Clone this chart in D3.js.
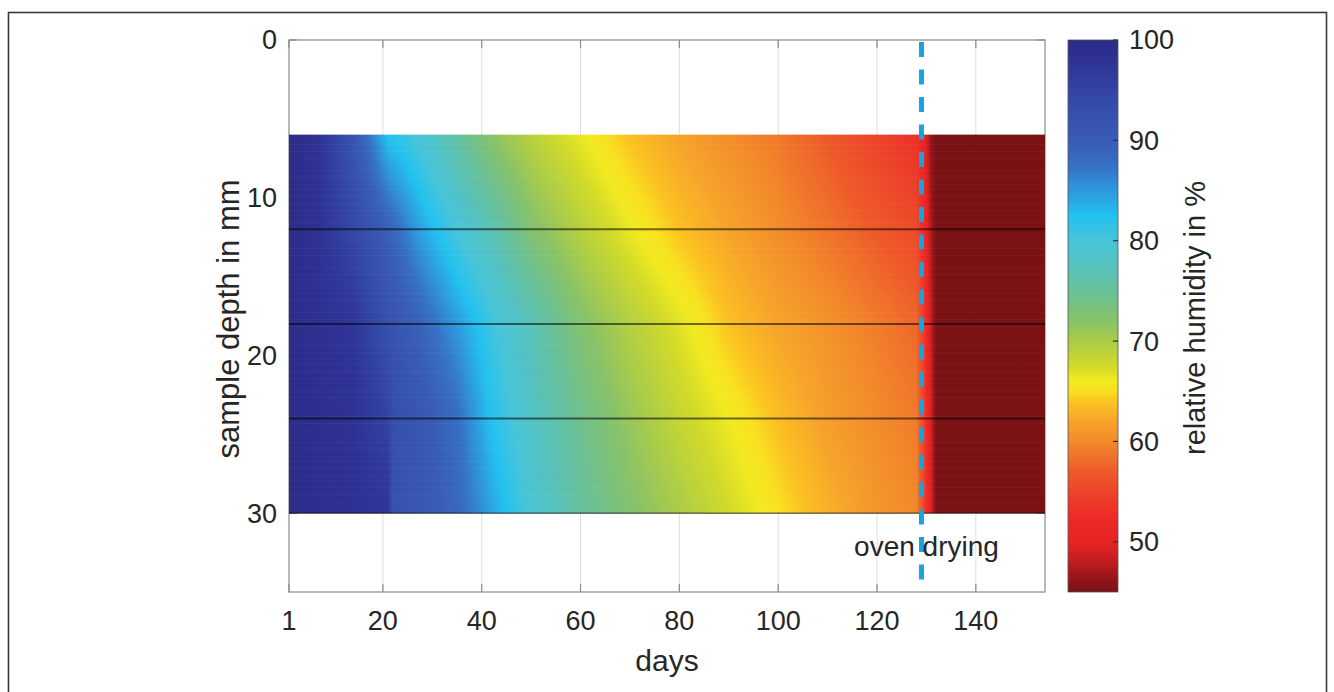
<!DOCTYPE html>
<html><head><meta charset="utf-8">
<script src="https://cdn.jsdelivr.net/npm/d3@7"></script>
<style>
body{margin:0;background:#fff;}
svg text{font-family:"Liberation Sans", Arial, sans-serif; fill:#262626;}
</style></head><body>
<svg id="chart" width="1334" height="692"></svg>
<script>
// ---- data ----
const days   = [1, 7, 14, 21, 22, 28, 35, 42, 50, 60, 70, 80, 90, 100, 110, 120, 128, 129.5, 131, 132, 154];
const depths = [6, 12, 18, 24, 30];
const rh6  = [99.5, 98.0, 91.5, 82.3, 81.9, 79.3, 75.5, 71.8, 69.0, 66.3, 63.7, 61.8, 60.3, 58.9, 56.8, 54.8, 53.0, 50.5, 46.0, 45, 45];
const rh12 = [99.5, 98.2, 94.3, 89.5, 88.6, 84.0, 80.0, 76.8, 72.5, 69.2, 66.3, 63.8, 61.9, 60.2, 58.6, 56.8, 55.5, 52.0, 47.0, 45, 45];
const rh18 = [99.5, 98.5, 97.5, 92.5, 92.0, 88.9, 84.9, 80.8, 77.0, 72.5, 69.4, 66.8, 63.8, 61.9, 60.6, 59.1, 57.8, 54.0, 48.0, 45, 45];
const rh24 = [99.5, 99.0, 98.2, 95.2, 93.0, 91.1, 88.0, 82.3, 78.2, 74.3, 71.1, 68.3, 66.1, 63.6, 61.5, 60.1, 59.0, 54.5, 48.5, 45, 45];
const rh30 = [99.5, 99.0, 98.3, 97.5, 92.0, 90.9, 88.7, 84.3, 79.5, 75.4, 72.5, 70.0, 67.6, 65.2, 62.8, 60.9, 60.0, 55.0, 49.0, 45, 45];
const xTicks = [1, 20, 40, 60, 80, 100, 120, 140];
const yTicks = [0, 10, 20, 30];
const cTicks = [50, 60, 70, 80, 90, 100];
const ovenDay = 129;
const ovenLabel = "oven drying";
const cmapValues = [45, 46, 48, 50, 52, 54, 57, 60, 62, 64, 65, 66, 67.5, 70, 72, 75, 78, 80, 82.5, 84, 85.5, 87.5, 90, 94, 98, 100];
const cmapColors = ["#7a1114","#8c1418","#c01e20","#e62424","#ec2828","#ec3a2a","#ee5a2a","#f28a2a","#f7a42a","#fbc420","#f8e020","#f2ea20","#d2da28","#aacc48","#88c268","#68c098","#52c2c4","#48c4d8","#22c2f0","#2aa8e4","#3090d8","#3670c4","#385cb6","#3449a8","#2e3294","#2b2b88"];

// ---- layout ----
const svg = d3.select('#chart');
const P = {left: 289, top: 40, right: 1045, bottom: 592};
const x = d3.scaleLinear().domain([1, 154]).range([P.left, P.right]);
const y = d3.scaleLinear().domain([0, 35]).range([P.top, P.bottom]);
const color = d3.scaleLinear().domain(cmapValues).range(cmapColors).interpolate(d3.interpolateRgb).clamp(true);
const CB = {left: 1068, right: 1118};
const cy = d3.scaleLinear().domain([45, 100]).range([P.bottom, P.top]);
const defs = svg.append('defs');

// outer frame
svg.append('rect').attr('x', 8.5).attr('y', 12.5).attr('width', 1318).attr('height', 720)
  .attr('fill', 'none').attr('stroke', '#3a3a3a').attr('stroke-width', 1.6);

// grid (x only)
svg.append('g').selectAll('line').data(xTicks.slice(1)).join('line')
  .attr('x1', d => x(d)).attr('x2', d => x(d)).attr('y1', P.top).attr('y2', P.bottom)
  .attr('stroke', '#dedede').attr('stroke-width', 1);

// axes box + ticks (drawn below data)
const ax = svg.append('g');
ax.append('rect').attr('x', P.left).attr('y', P.top).attr('width', P.right - P.left).attr('height', P.bottom - P.top)
  .attr('fill', 'none').attr('stroke', '#8a8a8a').attr('stroke-width', 1.2);
xTicks.forEach(t => {
  ax.append('line').attr('x1', x(t)).attr('x2', x(t)).attr('y1', P.bottom).attr('y2', P.bottom - 8).attr('stroke', '#8a8a8a').attr('stroke-width', 1.2);
  ax.append('line').attr('x1', x(t)).attr('x2', x(t)).attr('y1', P.top).attr('y2', P.top + 8).attr('stroke', '#8a8a8a').attr('stroke-width', 1.2);
});
yTicks.forEach(t => {
  ax.append('line').attr('x1', P.left).attr('x2', P.left + 8).attr('y1', y(t)).attr('y2', y(t)).attr('stroke', '#8a8a8a').attr('stroke-width', 1.2);
  ax.append('line').attr('x1', P.right).attr('x2', P.right - 8).attr('y1', y(t)).attr('y2', y(t)).attr('stroke', '#8a8a8a').attr('stroke-width', 1.2);
});

// ---- data field (shading interp) ----
const rows = [rh6, rh12, rh18, rh24, rh30];
function valueAt(day, depth) {
  let j = d3.bisectRight(depths, depth) - 1; j = Math.max(0, Math.min(depths.length - 2, j));
  const ty = (depth - depths[j]) / (depths[j + 1] - depths[j]);
  let i = d3.bisectRight(days, day) - 1; i = Math.max(0, Math.min(days.length - 2, i));
  const tx = (day - days[i]) / (days[i + 1] - days[i]);
  const v = r => r[i] + (r[i + 1] - r[i]) * tx;
  return v(rows[j]) * (1 - ty) + v(rows[j + 1]) * ty;
}
const d0 = days[0], d1 = days[days.length - 1];
const sampleDays = [];
for (let d = d0; d < 126; d += 1) sampleDays.push(d);
for (let d = 126; d < 134; d += 0.25) sampleDays.push(d);
for (let d = 134; d <= d1; d += 1) sampleDays.push(d);
const stripStep = 0.15;
const strips = d3.range(depths[0], depths[depths.length - 1] - 1e-9, stripStep);
const field = svg.append('g');
strips.forEach((dep, k) => {
  const mid = Math.min(dep + stripStep / 2, depths[depths.length - 1]);
  const g = defs.append('linearGradient').attr('id', 'strip' + k)
    .attr('gradientUnits', 'userSpaceOnUse')
    .attr('x1', x(d0)).attr('x2', x(d1)).attr('y1', 0).attr('y2', 0);
  sampleDays.forEach(d => {
    g.append('stop').attr('offset', (x(d) - x(d0)) / (x(d1) - x(d0)))
      .attr('stop-color', color(valueAt(d, mid)));
  });
  const y0 = y(dep), y1 = Math.min(y(dep + stripStep) + 0.6, y(depths[depths.length - 1]));
  field.append('rect').attr('x', x(d0)).attr('y', y0).attr('width', x(d1) - x(d0)).attr('height', y1 - y0)
    .attr('fill', 'url(#strip' + k + ')');
});
// sensor layer boundaries
field.selectAll('line.layer').data(depths.slice(1)).join('line').attr('class', 'layer')
  .attr('x1', x(d0)).attr('x2', x(d1)).attr('y1', d => y(d)).attr('y2', d => y(d))
  .attr('stroke', 'rgba(0,0,0,0.55)').attr('stroke-width', d => d === depths[depths.length - 1] ? 1.5 : 2);

// tick labels
const tl = svg.append('g').attr('font-size', 27);
tl.selectAll('text.xt').data(xTicks).join('text').attr('class', 'xt')
  .attr('x', d => x(d)).attr('y', 630).attr('text-anchor', 'middle').text(d => d);
tl.selectAll('text.yt').data(yTicks).join('text').attr('class', 'yt')
  .attr('x', 277).attr('y', d => y(d)).attr('dy', '0.35em').attr('text-anchor', 'end').text(d => d);

// axis titles
svg.append('text').attr('x', 667).attr('y', 671).attr('text-anchor', 'middle')
  .attr('font-size', 30).text('days');
svg.append('text').attr('transform', `translate(239,319) rotate(-90)`)
  .attr('text-anchor', 'middle').attr('font-size', 31).text('sample depth in mm');

// oven drying marker
svg.append('line').attr('x1', x(ovenDay)).attr('x2', x(ovenDay)).attr('y1', y(0)).attr('y2', y(34.3))
  .attr('stroke', '#19a3dc').attr('stroke-width', 5).attr('stroke-dasharray', '15 12.5').attr('stroke-dashoffset', -2);
svg.append('text').attr('x', x(ovenDay) + 5).attr('y', 556).attr('text-anchor', 'middle')
  .attr('font-size', 28).text(ovenLabel);

// ---- colorbar ----
const cg = defs.append('linearGradient').attr('id', 'cbar').attr('gradientUnits', 'userSpaceOnUse')
  .attr('x1', 0).attr('x2', 0).attr('y1', cy(45)).attr('y2', cy(100));
d3.range(45, 100.01, 0.25).forEach(v => {
  cg.append('stop').attr('offset', (v - 45) / 55).attr('stop-color', color(v));
});
svg.append('rect').attr('x', CB.left).attr('y', P.top).attr('width', CB.right - CB.left).attr('height', P.bottom - P.top)
  .attr('fill', 'url(#cbar)').attr('stroke', '#555').attr('stroke-width', 0.8);
svg.append('g').selectAll('line').data(cTicks).join('line')
  .attr('x1', CB.right).attr('x2', CB.right - 5).attr('y1', d => cy(d)).attr('y2', d => cy(d))
  .attr('stroke', '#333').attr('stroke-width', 1.2);
svg.append('g').attr('font-size', 27).selectAll('text').data(cTicks).join('text')
  .attr('x', 1129).attr('y', d => cy(d)).attr('dy', '0.35em').text(d => d);
svg.append('text').attr('transform', `translate(1205,318) rotate(-90)`)
  .attr('text-anchor', 'middle').attr('font-size', 29).text('relative humidity in %');
</script>
</body></html>
